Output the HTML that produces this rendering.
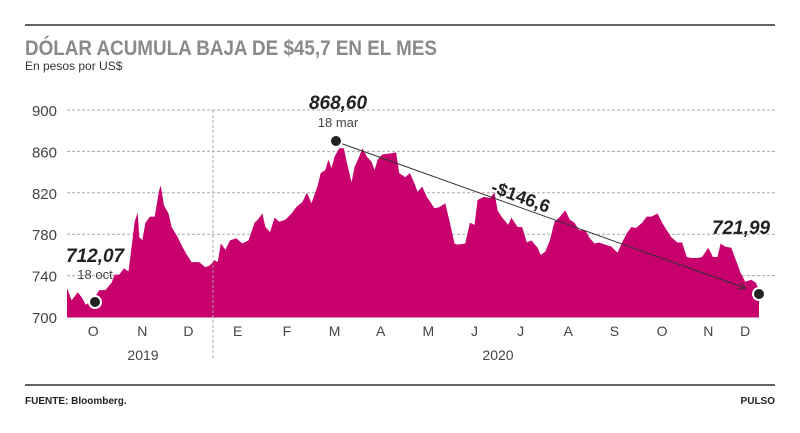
<!DOCTYPE html>
<html><head><meta charset="utf-8">
<style>
body{margin:0;background:#fff;width:800px;height:428px;overflow:hidden;font-family:"Liberation Sans",sans-serif;}
</style></head>
<body>
<svg width="800" height="428" viewBox="0 0 800 428">
<line x1="25" y1="25" x2="775" y2="25" stroke="#333" stroke-width="1.5"/>
<text x="25" y="55" font-size="21" font-weight="bold" fill="#8a8a8a" textLength="412" lengthAdjust="spacingAndGlyphs">DÓLAR ACUMULA BAJA DE $45,7 EN EL MES</text>
<text x="25" y="70" font-size="12" fill="#333">En pesos por US$</text>
<g id="grid"></g>
<g id="area"></g>
<line x1="213" y1="110" x2="213" y2="358" stroke="#aaa" stroke-dasharray="3,2"/>
<g id="axis"></g>
<g id="annot"></g>
<line x1="25" y1="385" x2="775" y2="385" stroke="#333" stroke-width="1.5"/>
<text x="25" y="404" font-size="10" font-weight="bold" fill="#222">FUENTE: Bloomberg.</text>
<text x="775" y="404" font-size="10" font-weight="bold" fill="#222" text-anchor="end">PULSO</text>
</svg>
<script>
const days=[0,3,7,10,12,15,18,21,25,29,31,34,37,40,42,44,46,47,49,51,54,57,60,61,63,66,68,72,75,78,81,86,90,93,96,98,100,103,106,110,114,118,122,124,127,129,132,135,138,142,146,149,153,156,159,163,165,168,170,172,174,177,180,182,185,187,190,192,195,198,200,202,205,210,214,216,220,223,226,228,231,234,239,242,246,249,252,254,259,262,265,267,271,275,278,280,283,287,289,293,296,299,302,306,308,311,314,317,320,324,327,330,333,337,340,343,346,350,354,358,361,364,367,370,374,377,380,384,387,390,393,397,400,403,406,410,413,417,420,423,425,428,432,435,438,441,445,448,450];
const values=[728,716,724,718,712,714,719,726,726,733,741,741,747,744,768,792,801,777,774,791,797,797,823,827,808,800,787,777,768,760,753,753,748,750,755,753,771,765,774,776,771,774,791,794,800,787,782,796,792,794,800,806,811,820,810,827,839,842,852,844,855,863,863,849,830,845,855,863,855,850,842,852,857,858,859,839,835,839,829,821,826,816,805,806,810,791,771,770,771,791,789,813,816,815,820,803,796,789,796,787,787,772,774,767,760,763,774,792,796,803,794,791,784,784,776,771,772,770,768,762,772,781,787,786,791,797,797,800,791,784,777,772,772,758,757,757,758,767,758,758,771,768,767,755,743,734,736,733,726];
const yTicks=[700,740,780,820,860,900];
const months=["O","N","D","E","F","M","A","M","J","J","A","S","O","N","D"];
const monthDays=[17,49,79,111,143,174,204,235,265,295,326,356,387,417,441];
const NS="http://www.w3.org/2000/svg";
const X=d=>67+d*(692/450);
const Y=v=>317-(v-700)*(207/200);
function mk(tag,attrs,parent,txt){const e=document.createElementNS(NS,tag);for(const k in attrs)e.setAttribute(k,attrs[k]);if(txt!==undefined)e.textContent=txt;document.getElementById(parent).appendChild(e);return e;}
yTicks.forEach(t=>{
  if(t>700){const l=mk('line',{x1:67,x2:775,y1:Y(t),y2:Y(t),stroke:'#aaa','stroke-dasharray':'3,2'},'grid');
  
  }
  const tx=mk('text',{x:57,y:Y(t)+6,'font-size':15,fill:'#444','text-anchor':'end'},'grid',t);
  
  
});
let d='M'+X(days[0])+','+Y(700);
days.forEach((dd,i)=>{d+='L'+X(dd).toFixed(1)+','+Y(values[i]).toFixed(1);});
d+='L'+X(days[days.length-1])+','+Y(700)+'Z';
const a=mk('path',{d:d,fill:'#c8006e'},'area');


const bl=mk('line',{x1:67,x2:759,y1:317,y2:317,stroke:'#c8006e'},'area');


months.forEach((m,i)=>{const t=mk('text',{x:X(monthDays[i]),y:336,'font-size':14,fill:'#444','text-anchor':'middle'},'axis',m);

});
const y1=mk('text',{x:143,y:360,'font-size':14,fill:'#444','text-anchor':'middle'},'axis','2019');


const y2=mk('text',{x:498,y:360,'font-size':14,fill:'#444','text-anchor':'middle'},'axis','2020');


const an=document.getElementById('annot');
an.innerHTML=`
<defs><marker id="ah" markerWidth="8" markerHeight="8" refX="7" refY="4" orient="auto"><path d="M0,0 L8,4 L0,8" fill="none" stroke="#333" stroke-width="1"/></marker></defs>
<line x1="340" y1="143" x2="745" y2="288" stroke="#333" stroke-width="1" marker-end="url(#ah)"/>
<circle cx="95" cy="302" r="6" fill="#222" stroke="#fff" stroke-width="2"/>
<circle cx="336" cy="141" r="6" fill="#222" stroke="#fff" stroke-width="2"/>
<circle cx="759" cy="294" r="6" fill="#222" stroke="#fff" stroke-width="2"/>
<text x="66" y="262" font-size="19" font-weight="bold" font-style="italic" fill="#222">712,07</text>
<text x="95" y="279" font-size="13" fill="#444" text-anchor="middle">18 oct</text>
<text x="338" y="109" font-size="19" font-weight="bold" font-style="italic" fill="#222" text-anchor="middle">868,60</text>
<text x="338" y="127" font-size="13" fill="#444" text-anchor="middle">18 mar</text>
<text x="712" y="234" font-size="19" font-weight="bold" font-style="italic" fill="#222">721,99</text>
<text transform="translate(490,192) rotate(20)" font-size="18" font-weight="bold" fill="#222">-$146,6</text>`;
</script>
</body></html>
